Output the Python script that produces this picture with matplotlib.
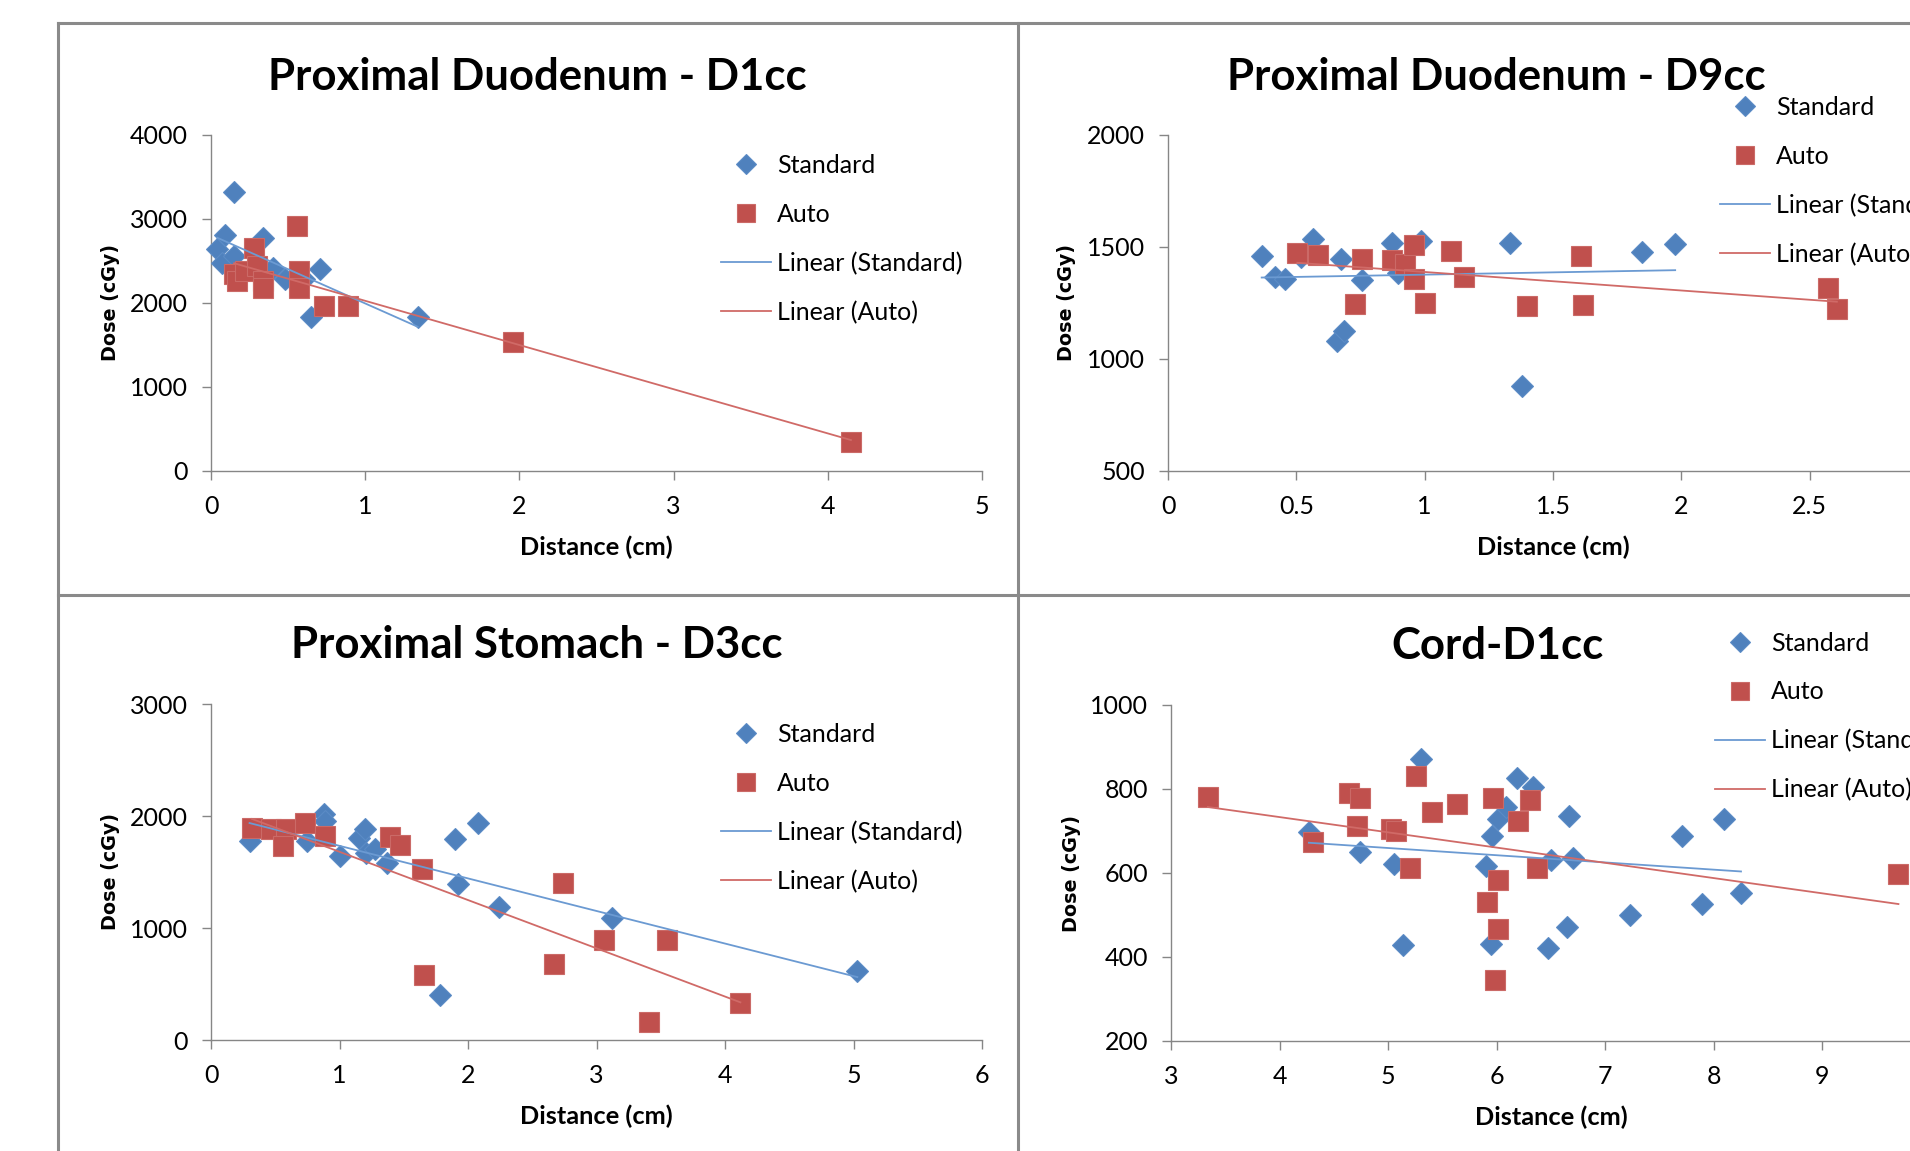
import numpy as np
import matplotlib
matplotlib.use("Agg")
import matplotlib.pyplot as plt
from matplotlib.lines import Line2D
from matplotlib.ticker import FuncFormatter

# ---------------- data ----------------
titles = ["Proximal Duodenum - D1cc", "Proximal Duodenum - D9cc",
          "Proximal Stomach - D3cc", "Cord-D1cc"]
series_names = ["Standard", "Auto"]

std1_x = [0.04, 0.09, 0.15, 0.07, 0.15, 0.34, 0.40, 0.48, 0.60, 0.65, 0.71, 1.34]
std1_y = [2640, 2815, 3317, 2480, 2560, 2776, 2420, 2282, 2282, 1828, 2400, 1828]
auto1_x = [0.56, 0.28, 0.15, 0.17, 0.22, 0.30, 0.34, 0.34, 0.57, 0.57, 0.73, 0.89, 1.96, 4.15]
auto1_y = [2914, 2657, 2342, 2263, 2381, 2440, 2263, 2184, 2381, 2184, 1967, 1967, 1532, 347]

std2_x = [0.365, 0.416, 0.454, 0.52, 0.564, 0.675, 0.659, 0.686, 0.754, 0.874, 0.896,
          0.987, 1.332, 1.381, 1.847, 1.976]
std2_y = [1460, 1366, 1356, 1455, 1534, 1445, 1082, 1127, 1352, 1516, 1385,
          1526, 1519, 879, 1477, 1514]
auto2_x = [0.504, 0.586, 0.754, 0.730, 0.874, 0.925, 0.958, 0.958, 1.0, 1.102, 1.155,
           1.398, 1.608, 1.617, 2.573, 2.606]
auto2_y = [1474, 1464, 1448, 1245, 1440, 1426, 1508, 1356, 1252, 1482, 1366,
           1237, 1460, 1242, 1316, 1223]

std3_x = [0.30, 0.75, 0.88, 0.89, 1.00, 1.15, 1.20, 1.21, 1.28, 1.37, 1.90, 1.92,
          2.08, 2.24, 1.78, 3.12, 5.03]
std3_y = [1776, 1776, 2015, 1955, 1642, 1806, 1886, 1672, 1702, 1583, 1797, 1390,
          1940, 1191, 401, 1093, 618]
auto3_x = [0.32, 0.47, 0.58, 0.56, 0.73, 0.89, 1.39, 1.47, 1.64, 1.66, 2.67, 2.74,
           3.06, 3.55, 3.41, 4.12]
auto3_y = [1895, 1886, 1886, 1732, 1940, 1822, 1815, 1737, 1530, 579, 677, 1405,
           891, 891, 157, 330]

std4_x = [4.27, 4.74, 5.05, 5.14, 5.30, 5.90, 5.95, 5.96, 6.01, 6.09, 6.19, 6.33,
          6.47, 6.50, 6.65, 6.67, 6.70, 7.23, 7.71, 7.89, 8.09, 8.25]
std4_y = [697, 649, 621, 429, 871, 617, 431, 688, 729, 756, 827, 804,
          421, 630, 472, 736, 636, 499, 689, 526, 729, 552]
auto4_x = [3.34, 4.31, 4.64, 4.74, 4.71, 5.03, 5.07, 5.26, 5.20, 5.40, 5.63, 5.91,
           5.97, 6.01, 6.01, 5.98, 6.20, 6.31, 6.37, 9.70]
auto4_y = [780, 675, 790, 778, 713, 705, 701, 830, 611, 746, 765, 531,
           778, 583, 467, 346, 724, 775, 612, 598]

x_ticks = [[0, 1, 2, 3, 4, 5], [0, 0.5, 1, 1.5, 2, 2.5, 3],
           [0, 1, 2, 3, 4, 5, 6], [3, 4, 5, 6, 7, 8, 9, 10]]
y_ticks = [[0, 1000, 2000, 3000, 4000], [500, 1000, 1500, 2000],
           [0, 1000, 2000, 3000], [200, 400, 600, 800, 1000]]
x_label = "Distance (cm)"
y_label = "Dose (cGy)"

# ---------------- style ----------------
W, H = 1910, 1151
BLUE = "#4F81BD"
RED = "#C0504D"
GRAY = "#868686"
FONT = ["Lato", "DejaVu Sans"]
plt.rcParams["font.family"] = FONT
TXT = 18

fig = plt.figure(figsize=(W / 100, H / 100), dpi=100)
fig.patch.set_facecolor("white")


def rect(l, r, t, b):
    return [l / W, 1 - b / H, (r - l) / W, (b - t) / H]


panels = [
    dict(r=rect(211, 982, 135, 471), title=(537, 76.5), leg=(721, 239),
         ylab=110, xlab=547, sx=std1_x, sy=std1_y, ax_=auto1_x, ay=auto1_y),
    dict(r=rect(1168, 1938, 135, 471), title=(1496, 76.5), leg=(1720, 181),
         ylab=1067, xlab=547, sx=std2_x, sy=std2_y, ax_=auto2_x, ay=auto2_y),
    dict(r=rect(211, 982, 704, 1040), title=(537, 645.5), leg=(721, 808),
         ylab=110, xlab=1116, sx=std3_x, sy=std3_y, ax_=auto3_x, ay=auto3_y),
    dict(r=rect(1171, 1931, 705, 1041), title=(1497, 646), leg=(1715, 716.5),
         ylab=1071, xlab=1117, sx=std4_x, sy=std4_y, ax_=auto4_x, ay=auto4_y),
]

fmt = FuncFormatter(lambda v, p: "%g" % v)

for i, p in enumerate(panels):
    ax = fig.add_axes(p["r"])
    xt, yt = x_ticks[i], y_ticks[i]
    ax.set_xlim(xt[0], xt[-1])
    ax.set_ylim(yt[0], yt[-1])
    ax.set_xticks(xt)
    ax.set_yticks(yt)
    ax.xaxis.set_major_formatter(fmt)
    ax.yaxis.set_major_formatter(fmt)
    for s in ["top", "right"]:
        ax.spines[s].set_visible(False)
    for s in ["left", "bottom"]:
        ax.spines[s].set_color(GRAY)
        ax.spines[s].set_linewidth(1.0)
    ax.tick_params(axis="both", direction="out", length=6.5, width=1.0,
                   color=GRAY, labelsize=TXT, labelcolor="black")
    ax.tick_params(axis="x", pad=10.5)
    ax.tick_params(axis="y", pad=10)
    ax.set_facecolor("none")

    sx, sy = np.array(p["sx"]), np.array(p["sy"])
    axx, ayy = np.array(p["ax_"]), np.array(p["ay"])
    h1, = ax.plot(sx, sy, "D", ms=11.5, color=BLUE, mec="#5B8BC6", mew=0.8,
                  clip_on=False, zorder=3, label=series_names[0])
    h2, = ax.plot(axx, ayy, "s", ms=15, color=RED, mec="#CB6A67", mew=0.8,
                  clip_on=False, zorder=4, label=series_names[1])
    # linear trendlines (least squares, spanning data range)
    cs = np.polyfit(sx, sy, 1)
    xs = np.array([sx.min(), sx.max()])
    h3, = ax.plot(xs, np.polyval(cs, xs), "-", color="#6B9AD2", lw=1.3,
                  zorder=5, label="Linear (Standard)")
    ca = np.polyfit(axx, ayy, 1)
    xa = np.array([axx.min(), axx.max()])
    h4, = ax.plot(xa, np.polyval(ca, xa), "-", color="#D06A67", lw=1.3,
                  zorder=5, label="Linear (Auto)")

    lx, ly = p["leg"]
    ax.legend(handles=[h1, h2, h3, h4], loc="center left",
              bbox_to_anchor=(lx / W, 1 - ly / H), bbox_transform=fig.transFigure,
              frameon=False, fontsize=TXT, borderpad=0, borderaxespad=0,
              labelspacing=1.03, handlelength=2.0, handletextpad=0.25,
              markerscale=0.85)

    tx, ty = p["title"]
    fig.text(tx / W, 1 - ty / H, titles[i], ha="center", va="center",
             fontsize=31.5, fontweight="bold", family=FONT)
    l, b, w, h = p["r"]
    fig.text(p["ylab"] / W, b + h / 2, y_label, rotation=90, ha="center",
             va="center", fontsize=13.8, fontweight="bold",
             family=["DejaVu Sans"])
    fig.text(l + w / 2, 1 - p["xlab"] / H, x_label, ha="center", va="center",
             fontsize=18.3, fontweight="bold", family=FONT)

# chart borders
bc = "#8A8A8A"
bw = 2.2
for (x0, y0, x1, y1) in [(58, 23, 1910, 23), (58, 23, 58, 1151),
                         (1018, 23, 1018, 1151), (58, 595, 1910, 595)]:
    fig.add_artist(Line2D([x0 / W, x1 / W], [1 - y0 / H, 1 - y1 / H],
                          transform=fig.transFigure, color=bc, lw=bw))

fig.savefig("out.png", dpi=100)
